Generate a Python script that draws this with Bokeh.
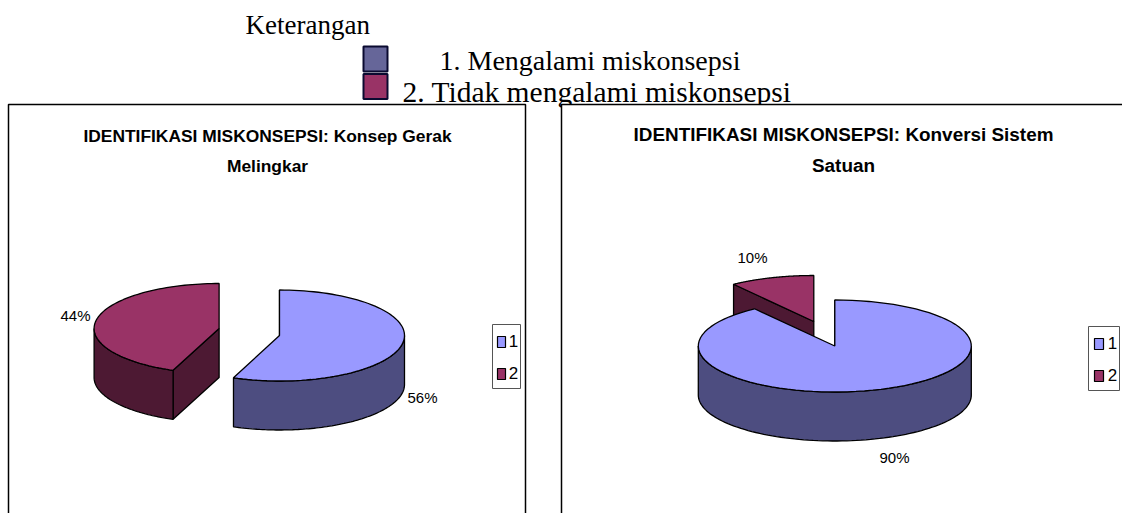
import numpy as np
from bokeh.plotting import figure
from bokeh.models import Range1d
from bokeh.core.properties import value
from bokeh.embed import file_html
from bokeh.resources import INLINE

# --- data ---
categories = ["1", "2"]
series_gerak = [56, 44]
series_konversi = [90, 10]
labels_gerak = ["56%", "44%"]
labels_konversi = ["90%", "10%"]
title_gerak = ["IDENTIFIKASI MISKONSEPSI: Konsep Gerak", "Melingkar"]
title_konversi = ["IDENTIFIKASI MISKONSEPSI: Konversi Sistem", "Satuan"]
heading = "Keterangan"
key_texts = ["1. Mengalami miskonsepsi", "2. Tidak mengalami miskonsepsi"]

# --- styles ---
TOP = ["#9999FF", "#993366"]
SIDE = ["#4D4D80", "#4D1933"]
KEY = ["#666699", "#993366"]
SERIF = value("Liberation Serif")
SANS = value("Liberation Sans")

W, H = 1122, 513
p = figure(width=W, height=H, output_backend="svg", toolbar_location=None,
           x_range=Range1d(0, W), y_range=Range1d(H, 0),
           x_axis_type=None, y_axis_type=None, min_border=0)
p.grid.visible = False
p.outline_line_color = None
p.background_fill_color = "white"
p.border_fill_color = "white"


def txt(x, y, s, size, font=SANS, style="normal", align="center", color="#000000"):
    p.text([x], [y], text=[s], text_font=font, text_font_size=f"{size}px",
           text_font_style=style, text_align=align, text_baseline="middle", text_color=color)


def arc(c, r, a, b, depth=0):
    t = np.radians(np.linspace(a, b, 90))
    return c[0] + r[0] * np.sin(t), c[1] - r[1] * np.cos(t) + depth


def slice3d(c, r, a, b, depth, idx):
    xa, ya = arc(c, r, a, a)
    p.patch([xa[0], c[0], c[0], xa[0]], [ya[0], c[1], c[1] + depth, ya[0] + depth],
            fill_color=SIDE[idx], line_color="black", line_width=1.3)
    lo, hi = max(a, 90), min(b, 270)
    if lo < hi:
        x1, y1 = arc(c, r, lo, hi)
        x2, y2 = arc(c, r, lo, hi, depth)
        p.patch(np.r_[x1, x2[::-1]], np.r_[y1, y2[::-1]],
                fill_color=SIDE[idx], line_color="black", line_width=1.3)
    x, y = arc(c, r, a, b)
    p.patch(np.r_[c[0], x], np.r_[c[1], y], fill_color=TOP[idx], line_color="black", line_width=1.3)


def sweep(vals):
    return [v / sum(vals) * 360 for v in vals]


# --- header (drawn before the frames, which hide the descenders) ---
txt(245, 24, heading, 27, SERIF, align="left")
txt(439, 60, key_texts[0], 28, SERIF, align="left")
txt(402, 91, key_texts[1], 29.5, SERIF, align="left")
for i, (t, b) in enumerate([(46, 71), (73.5, 98.5)]):
    p.quad(left=[363], right=[387], top=[t], bottom=[b], fill_color=KEY[i],
           line_color="#0A0A30", line_width=2)

# --- frames ---
p.quad(left=[8], right=[525], top=[104], bottom=[530], fill_color="white", line_color="black", line_width=1.5)
p.quad(left=[561], right=[1140], top=[104], bottom=[530], fill_color="white", line_color="black", line_width=1.5)

# --- chart 1 ---
txt(267, 135, title_gerak[0], 17.4, style="bold")
txt(267, 165, title_gerak[1], 17.4, style="bold")
s = sweep(series_gerak)
slice3d((218.6, 328), (125, 45), s[0], 360, 49, 1)
slice3d((279, 335), (125, 45.5), 0, s[0], 49, 0)
txt(422, 397, labels_gerak[0], 15)
txt(75, 315, labels_gerak[1], 15)

# --- chart 2 ---
txt(843, 134, title_konversi[0], 18.9, style="bold")
txt(843, 165, title_konversi[1], 18.9, style="bold")
s = sweep(series_konversi)
slice3d((813.3, 321), (136.5, 46), s[0], 360, 49, 1)
slice3d((834.3, 345.5), (136.5, 46), 0, s[0], 49, 0)
txt(894, 457, labels_konversi[0], 15)
txt(752, 257, labels_konversi[1], 15)

# --- chart legends ---
for left, right, top, bottom, sx0, sx1, tx, sy in [
    (492, 520, 324, 388, 497, 505, 513, [336, 368]),
    (1088, 1119, 326, 390, 1094, 1103, 1112, [338, 370]),
]:
    p.quad(left=[left], right=[right], top=[top], bottom=[bottom], fill_color="white",
           line_color="#555555", line_width=1)
    for i, y0 in enumerate(sy):
        p.quad(left=[sx0], right=[sx1], top=[y0], bottom=[y0 + 11], fill_color=TOP[i],
               line_color="black", line_width=1.2)
        txt(tx, y0 + 4, categories[i], 17)

open("out.html", "w").write(file_html(p, INLINE))
